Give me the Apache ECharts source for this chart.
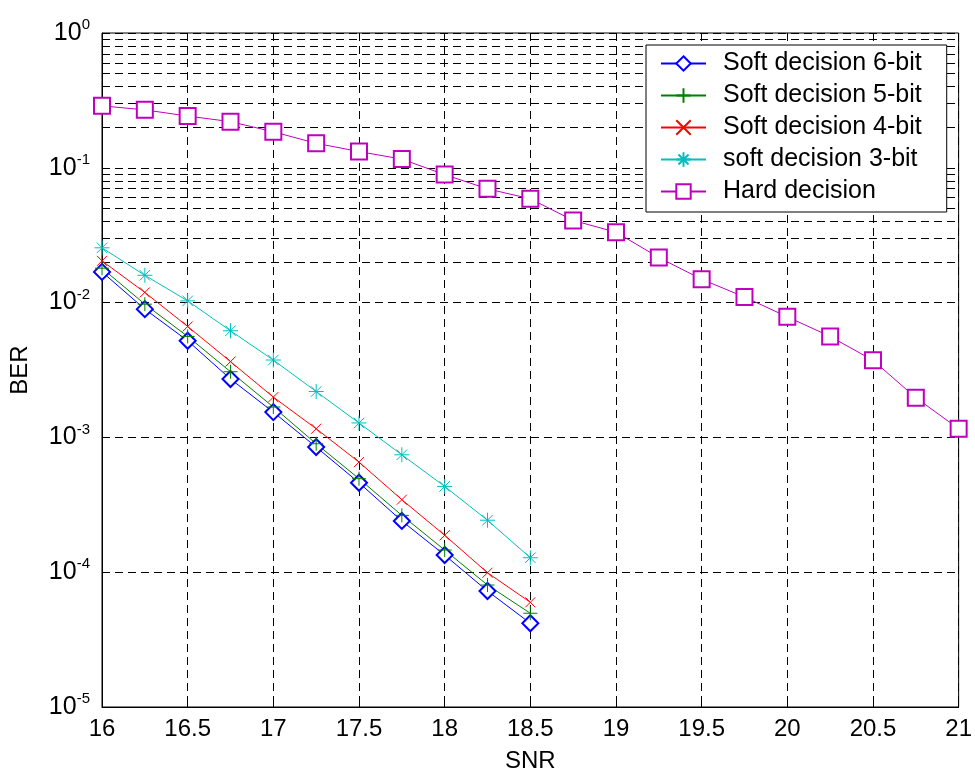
<!DOCTYPE html>
<html>
<head>
<meta charset="utf-8">
<script src="https://cdn.jsdelivr.net/npm/echarts@6/dist/echarts.min.js"></script>
<style>
  html, body { margin: 0; padding: 0; background: #fff; }
  #chart { width: 975px; height: 778px; }
</style>
</head>
<body>
<div id="chart"></div>
<script>
// SNR points
const snrSoft = [16, 16.25, 16.5, 16.75, 17, 17.25, 17.5, 17.75, 18, 18.25, 18.5];
const snrHard = [16, 16.25, 16.5, 16.75, 17, 17.25, 17.5, 17.75, 18, 18.25, 18.5,
                 18.75, 19, 19.25, 19.5, 19.75, 20, 20.25, 20.5, 20.75, 21];

// BER values
const soft6 = [0.0169, 0.00894, 0.00521, 0.00271, 0.00154, 0.000848, 0.000461, 0.000240, 0.000134, 0.0000725, 0.0000418];
const soft5 = [0.0180, 0.00973, 0.00561, 0.00307, 0.00168, 0.000897, 0.000494, 0.000264, 0.000146, 0.0000803, 0.0000496];
const soft4 = [0.0204, 0.0119, 0.00665, 0.00365, 0.00199, 0.00116, 0.000656, 0.000345, 0.000188, 0.0000991, 0.0000598];
const soft3 = [0.0255, 0.01595, 0.0103, 0.00618, 0.00375, 0.00219, 0.00128, 0.000743, 0.000433, 0.000243, 0.000128];
const hard = [0.288, 0.269, 0.242, 0.220, 0.185, 0.152, 0.132, 0.116, 0.089, 0.0698, 0.0589,
              0.0407, 0.0333, 0.0216, 0.0149, 0.0110, 0.00784, 0.00561, 0.00373, 0.00197, 0.00116];

const names = ['Soft decision 6-bit', 'Soft decision 5-bit', 'Soft decision 4-bit', 'soft decision 3-bit', 'Hard decision'];
const decades = [-5, -4, -3, -2, -1];
const mantissas = [2, 3, 4, 5, 6, 7, 8, 9];

const font = 'Liberation Sans, Arial, sans-serif';
const dash = [8, 5];

function pairs(xs, ys) {
    return xs.map((x, i) => [x, ys[i]]);
}

// minor log grid lines (2..9 x 10^d)
const minorLines = [];
decades.forEach(d => {
    mantissas.forEach(m => {
        minorLines.push({ yAxis: m * Math.pow(10, d) });
    });
});

const plusPath = 'path://M5,0L5,10M0,5L10,5';
const crossPath = 'path://M0,0L10,10M10,0L0,10';
const starPath = 'path://M5,0L5,10M0,5L10,5M1.5,1.5L8.5,8.5M8.5,1.5L1.5,8.5';

function lineSeries(name, data, color, symbol, size) {
    return {
        name: name,
        type: 'line',
        data: data,
        symbol: symbol,
        symbolSize: size,
        showAllSymbol: true,
        animation: false,
        lineStyle: { color: color, width: 1 },
        itemStyle: { color: color, borderColor: color, borderWidth: 1 },
        emphasis: { disabled: true }
    };
}

const series = [
    lineSeries(names[0], pairs(snrSoft, soft6), '#0000ff', 'emptyDiamond', 16),
    lineSeries(names[1], pairs(snrSoft, soft5), '#008000', plusPath, 14),
    lineSeries(names[2], pairs(snrSoft, soft4), '#ff0000', crossPath, 10),
    lineSeries(names[3], pairs(snrSoft, soft3), '#00bfbf', starPath, 15),
    lineSeries(names[4], pairs(snrHard, hard), '#bf00bf', 'emptyRect', 16)
];
series[0].markLine = {
    silent: true,
    symbol: 'none',
    animation: false,
    z: 1,
    label: { show: false },
    lineStyle: { color: '#000', type: dash, width: 1 },
    data: minorLines
};

const option = {
    animation: false,
    grid: {
        left: 102, right: 15, top: 33, bottom: 69,
        show: true, borderColor: '#000', borderWidth: 1
    },
    legend: {
        orient: 'vertical',
        left: 646,
        top: 45,
        z: 20,
        data: names,
        backgroundColor: '#fff',
        borderColor: '#000',
        borderWidth: 1,
        padding: [6, 25, 8, 14],
        itemWidth: 45,
        itemHeight: 18,
        itemGap: 7,
        textStyle: { color: '#000', fontSize: 25, fontFamily: font, padding: [0, 0, 0, 12] }
    },
    xAxis: {
        type: 'value',
        min: 16,
        max: 21,
        interval: 0.5,
        name: 'SNR',
        nameLocation: 'middle',
        nameGap: 42,
        nameTextStyle: { color: '#000', fontSize: 24, fontFamily: font },
        axisLine: { lineStyle: { color: '#000', width: 1 } },
        axisTick: { inside: true, length: 6, lineStyle: { color: '#000' } },
        axisLabel: { color: '#000', fontSize: 24, fontFamily: font, margin: 10 },
        splitLine: { show: true, lineStyle: { color: '#000', type: dash, width: 1 } }
    },
    yAxis: {
        type: 'log',
        logBase: 10,
        min: 1e-5,
        max: 1,
        splitNumber: 5,
        name: 'BER',
        nameLocation: 'middle',
        nameGap: 70,
        nameTextStyle: { color: '#000', fontSize: 24, fontFamily: font },
        axisLine: { lineStyle: { color: '#000', width: 1 } },
        axisTick: { inside: true, length: 6, lineStyle: { color: '#000' } },
        axisLabel: {
            margin: 12,
            formatter: function (v) {
                const e = Math.round(Math.log10(v));
                return '{b|10}{s|' + e + '}';
            },
            rich: {
                b: { color: '#000', fontSize: 25, fontFamily: font },
                s: { color: '#000', fontSize: 15, fontFamily: font, padding: [0, 0, 16, 0] }
            }
        },
        splitLine: { show: true, lineStyle: { color: '#000', type: dash, width: 1 } }
    },
    series: series
};

const chart = echarts.init(document.getElementById('chart'));
chart.setOption(option);
</script>
</body>
</html>
